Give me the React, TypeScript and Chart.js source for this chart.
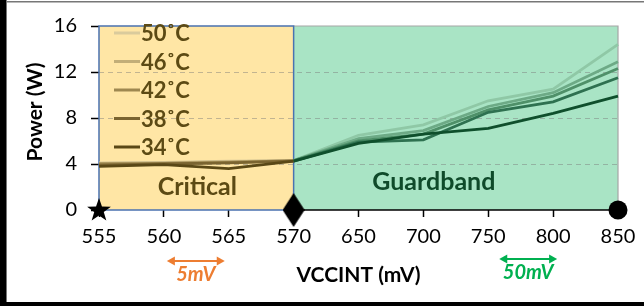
import React, { useEffect, useRef } from "react";
import { Chart, registerables } from "chart.js";

Chart.register(...registerables);

const categories = ["555", "560", "565", "570", "650", "700", "750", "800", "850"];
const seriesNames = ["34˚C", "38˚C", "42˚C", "46˚C", "50˚C"];
const p34 = [3.8, 3.95, 3.6, 4.25, 5.8, 6.6, 7.1, 8.4, 9.9];
const p38 = [3.9, 4.0, 4.1, 4.25, 5.9, 6.1, 8.5, 9.4, 11.5];
const p42 = [4.0, 4.05, 4.15, 4.3, 6.0, 6.6, 8.7, 9.9, 12.3];
const p46 = [4.05, 4.1, 4.2, 4.3, 6.2, 6.9, 9.0, 10.2, 12.9];
const p50 = [4.1, 4.15, 4.25, 4.3, 6.5, 7.4, 9.5, 10.5, 14.4];
const markerValues = [0, null, null, 0, null, null, null, null, 0];
const yMin = 0;
const yMax = 16;
const yStep = 4;

const brownColors = ["#5A4816", "#7A6430", "#9E8850", "#C2AE78", "#DACB9C"];
const greenColors = ["#0F4F2C", "#2E7150", "#4F9069", "#6DAA86", "#8FC8A6"];
const FONT = "Lato, 'Liberation Sans', sans-serif";

function makeStar() {
  const c = document.createElement("canvas");
  c.width = 26; c.height = 26;
  const g = c.getContext("2d")!;
  g.fillStyle = "#000";
  g.beginPath();
  for (let i = 0; i < 10; i++) {
    const r = i % 2 === 0 ? 12.5 : 5;
    const a = -Math.PI / 2 + (i * Math.PI) / 5;
    const px = 13 + r * Math.cos(a);
    const py = 13.5 + r * Math.sin(a);
    if (i === 0) g.moveTo(px, py); else g.lineTo(px, py);
  }
  g.closePath();
  g.fill();
  return c;
}
function makeDiamond() {
  const c = document.createElement("canvas");
  c.width = 22; c.height = 34;
  const g = c.getContext("2d")!;
  g.fillStyle = "#000";
  g.beginPath();
  g.moveTo(11, 0); g.lineTo(22, 17); g.lineTo(11, 34); g.lineTo(0, 17);
  g.closePath(); g.fill();
  return c;
}
function makeCircle() {
  const c = document.createElement("canvas");
  c.width = 20; c.height = 20;
  const g = c.getContext("2d")!;
  g.fillStyle = "#000";
  g.beginPath(); g.arc(10, 10, 9.5, 0, Math.PI * 2); g.fill();
  return c;
}

function arrow(ctx: CanvasRenderingContext2D, x1: number, x2: number, y: number, color: string) {
  ctx.save();
  ctx.strokeStyle = color; ctx.fillStyle = color; ctx.lineWidth = 2;
  ctx.beginPath(); ctx.moveTo(x1 + 5, y); ctx.lineTo(x2 - 5, y); ctx.stroke();
  ctx.beginPath(); ctx.moveTo(x1, y); ctx.lineTo(x1 + 8, y - 4.5); ctx.lineTo(x1 + 8, y + 4.5); ctx.closePath(); ctx.fill();
  ctx.beginPath(); ctx.moveTo(x2, y); ctx.lineTo(x2 - 8, y - 4.5); ctx.lineTo(x2 - 8, y + 4.5); ctx.closePath(); ctx.fill();
  ctx.restore();
}

const decorPlugin = {
  id: "decor",
  beforeDraw(chart: any) {
    const { ctx, chartArea: a, scales } = chart;
    const xs = scales.x.getPixelForValue(3);
    ctx.save();
    ctx.fillStyle = "#FFE6A5";
    ctx.fillRect(a.left, a.top, xs - a.left, a.bottom - a.top);
    ctx.fillStyle = "#A9E4C5";
    ctx.fillRect(xs, a.top, a.right - xs, a.bottom - a.top);
    ctx.restore();
  },
  beforeDatasetsDraw(chart: any) {
    const { ctx, chartArea: a, scales } = chart;
    const xs = scales.x.getPixelForValue(3);
    ctx.save();
    ctx.strokeStyle = "#A6A6A6"; ctx.lineWidth = 1.2;
    ctx.beginPath(); ctx.moveTo(xs, a.top); ctx.lineTo(a.right, a.top); ctx.lineTo(a.right, a.bottom); ctx.stroke();
    ctx.strokeStyle = "#000"; ctx.lineWidth = 1.5;
    ctx.beginPath(); ctx.moveTo(xs, a.bottom); ctx.lineTo(a.right, a.bottom); ctx.stroke();
    ctx.strokeStyle = "#4A72B0"; ctx.lineWidth = 1.5;
    ctx.strokeRect(a.left, a.top, xs - a.left, a.bottom - a.top);
    ctx.restore();
  },
  afterDraw(chart: any) {
    const { ctx, chartArea: a, scales } = chart;
    const x = scales.x;
    ctx.save();
    // legend (top = 50˚C)
    ctx.font = `bold 22px ${FONT}`;
    ctx.textBaseline = "middle";
    ctx.textAlign = "left";
    for (let k = 0; k < 5; k++) {
      const idx = 4 - k;
      const y = 33 + k * 28.5;
      ctx.strokeStyle = brownColors[idx]; ctx.lineWidth = 3;
      ctx.beginPath(); ctx.moveTo(114, y); ctx.lineTo(140, y); ctx.stroke();
      ctx.fillStyle = "#5C4A14";
      ctx.fillText(seriesNames[idx], 141, y + 1);
    }
    // region labels
    ctx.font = `bold 25px ${FONT}`;
    ctx.textAlign = "center";
    ctx.textBaseline = "alphabetic";
    ctx.fillStyle = "#5C4A14";
    ctx.fillText("Critical", (a.left + x.getPixelForValue(3)) / 2 + 1, 195);
    ctx.fillStyle = "#0F4A2A";
    ctx.fillText("Guardband", (x.getPixelForValue(3) + a.right) / 2 - 22, 190);
    // axis titles
    ctx.fillStyle = "#000";
    ctx.font = `bold 21px ${FONT}`;
    ctx.textBaseline = "middle";
    ctx.fillText("VCCINT (mV)", (a.left + a.right) / 2, 275);
    ctx.save();
    ctx.translate(35, 112);
    ctx.rotate(-Math.PI / 2);
    ctx.fillText("Power (W)", 0, 0);
    ctx.restore();
    // annotations
    const o1 = x.getPixelForValue(1) + 3, o2 = x.getPixelForValue(2) - 4;
    arrow(ctx, o1, o2, 261, "#ED7D31");
    ctx.font = `italic bold 20px ${FONT}`;
    ctx.fillStyle = "#ED7D31";
    ctx.fillText("5mV", (o1 + o2) / 2, 275);
    const g1 = x.getPixelForValue(6) + 11, g2 = x.getPixelForValue(7) + 4;
    arrow(ctx, g1, g2, 259, "#00B050");
    ctx.fillStyle = "#00B050";
    ctx.fillText("50mV", (g1 + g2) / 2, 273);
    // outer frame
    ctx.fillStyle = "#000";
    ctx.fillRect(0, 0, 6, 306);
    ctx.fillRect(0, 302, 644, 4);
    ctx.fillStyle = "#777";
    ctx.fillRect(6, 1, 638, 1.5);
    ctx.fillRect(6, 0, 1, 302);
    ctx.restore();
  },
};

export default function App() {
  const ref = useRef<HTMLCanvasElement>(null);
  useEffect(() => {
    const series = [p34, p38, p42, p46, p50];
    const shapes = [makeStar(), null, null, makeDiamond(), null, null, null, null, makeCircle()];
    const datasets: any[] = series.map((d, i) => ({
      label: seriesNames[i],
      data: d,
      borderWidth: 2.8,
      pointRadius: 0,
      borderColor: greenColors[i],
      segment: {
        borderColor: (c: any) => (c.p0DataIndex < 3 ? brownColors[i] : greenColors[i]),
      },
      order: i + 1,
      tension: 0,
    }));
    datasets.push({
      label: "markers",
      data: markerValues,
      showLine: false,
      pointStyle: (c: any) => shapes[c.dataIndex] || "circle",
      pointRadius: 10,
      clip: false,
      order: 0,
    });
    const chart = new Chart(ref.current!, {
      type: "line",
      data: { labels: categories, datasets },
      options: {
        animation: false,
        responsive: false,
        layout: { padding: { top: 21, right: 26, left: 0, bottom: 0 } },
        plugins: { legend: { display: false }, tooltip: { enabled: false } },
        scales: {
          x: {
            afterFit: (s: any) => { s.height = 96; },
            grid: { drawOnChartArea: false, tickLength: 7, tickColor: "#000", tickWidth: 1.5 },
            border: { display: false },
            ticks: { color: "#000", font: { family: FONT, size: 20 }, padding: 8, autoSkip: false, maxRotation: 0 },
          },
          y: {
            min: yMin,
            max: yMax,
            afterFit: (s: any) => { s.width = 99; },
            grid: {
              color: (c: any) => (c.tick && c.tick.value > yMin && c.tick.value < yMax ? "rgba(120,120,120,0.45)" : "rgba(0,0,0,0)"),
              lineWidth: 1,
              tickLength: 8,
              tickColor: "#000",
              tickWidth: 1.5,
            },
            border: { display: false, dash: [5, 4] },
            ticks: { stepSize: yStep, color: "#000", font: { family: FONT, size: 20 }, padding: 14 },
          },
        },
      },
      plugins: [decorPlugin],
    });
    return () => chart.destroy();
  }, []);
  return (
    <div style={{ position: "fixed", left: 0, top: 0, width: 644, height: 306, background: "#fff" }}>
      <canvas ref={ref} width={644} height={306} style={{ display: "block" }} />
    </div>
  );
}
